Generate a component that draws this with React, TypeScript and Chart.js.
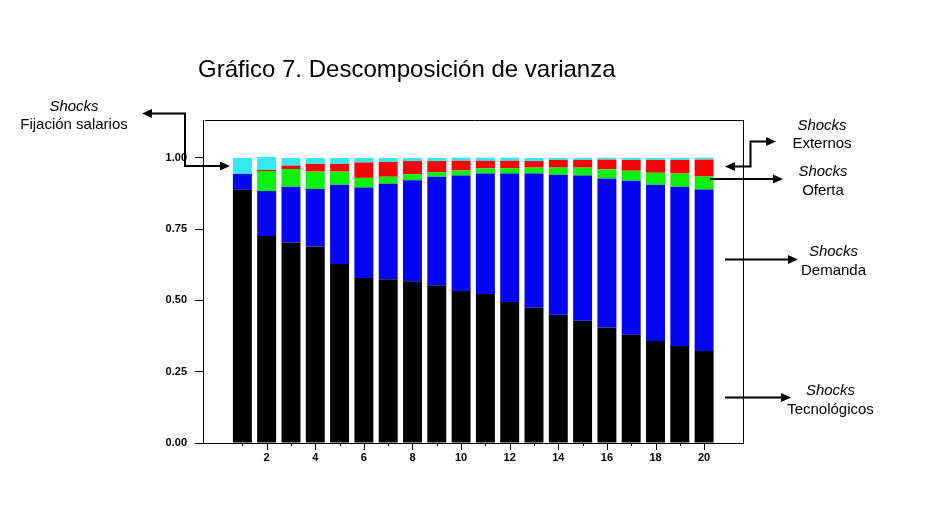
import React, { useEffect, useRef } from 'react';
import { Chart, registerables } from 'chart.js';

Chart.register(...registerables);

// ---- data ----
const categories = [1, 2, 3, 4, 5, 6, 7, 8, 9, 10, 11, 12, 13, 14, 15, 16, 17, 18, 19, 20];
const tecnologicos = [0.888, 0.726, 0.703, 0.689, 0.628, 0.579, 0.574, 0.567, 0.553, 0.533, 0.523, 0.495, 0.474, 0.450, 0.429, 0.405, 0.380, 0.358, 0.340, 0.323];
const demanda = [0.056, 0.158, 0.196, 0.202, 0.278, 0.317, 0.335, 0.355, 0.381, 0.405, 0.422, 0.450, 0.471, 0.491, 0.509, 0.523, 0.540, 0.548, 0.559, 0.566];
const oferta = [0.000, 0.070, 0.062, 0.061, 0.046, 0.034, 0.025, 0.021, 0.016, 0.018, 0.018, 0.019, 0.021, 0.025, 0.028, 0.032, 0.035, 0.042, 0.046, 0.046];
const externos = [0.000, 0.004, 0.012, 0.027, 0.027, 0.054, 0.052, 0.046, 0.039, 0.034, 0.027, 0.026, 0.023, 0.027, 0.027, 0.034, 0.038, 0.045, 0.048, 0.059];
const salarios = [0.056, 0.045, 0.027, 0.021, 0.021, 0.016, 0.014, 0.011, 0.011, 0.011, 0.011, 0.011, 0.011, 0.007, 0.007, 0.007, 0.007, 0.007, 0.007, 0.007];
const seriesNames = ['Tecnológicos', 'Demanda', 'Oferta', 'Externos', 'Fijación salarios'];
const seriesColors = ['#000000', '#0505F2', '#0AF00A', '#F50505', '#33E8F0'];
const xTickValues = [2, 4, 6, 8, 10, 12, 14, 16, 18, 20];
const yTickValues = [0, 0.25, 0.5, 0.75, 1.0];
const title = 'Gráfico 7. Descomposición de varianza';

const FONT = "'Liberation Sans', Arial, sans-serif";

const framePlugin = {
  id: 'frameTicks',
  afterDraw(chart: any) {
    const { ctx, chartArea: a, scales } = chart;
    ctx.save();
    ctx.strokeStyle = '#000';
    ctx.lineWidth = 1;
    ctx.beginPath();
    ctx.moveTo(a.left + 2, Math.round(a.top) + 0.5);
    ctx.lineTo(Math.round(a.right) + 0.5, Math.round(a.top) + 0.5);
    ctx.moveTo(Math.round(a.right) + 0.5, Math.round(a.top));
    ctx.lineTo(Math.round(a.right) + 0.5, Math.round(a.bottom) + 1);
    categories.forEach((v) => {
      const x = Math.round(scales.x.getPixelForValue(v)) + 0.5;
      const len = v % 2 === 0 ? 7 : 3;
      ctx.moveTo(x, Math.round(a.bottom));
      ctx.lineTo(x, Math.round(a.bottom) + len);
    });
    ctx.stroke();
    ctx.restore();
  },
};

function head(x: number, y: number, dir: number) {
  const l = 10, w = 4.5;
  return `${x},${y} ${x - dir * l},${y - w} ${x - dir * l},${y + w}`;
}

function Label({ cx, top, second }: { cx: number; top: number; second: string }) {
  return (
    <div
      style={{
        position: 'absolute',
        left: cx - 80,
        top,
        width: 160,
        textAlign: 'center',
        fontFamily: FONT,
        fontSize: 15,
        lineHeight: '18.5px',
        color: '#000',
        whiteSpace: 'nowrap',
      }}
    >
      <div style={{ fontStyle: 'italic' }}>Shocks</div>
      <div>{second}</div>
    </div>
  );
}

export default function App() {
  const ref = useRef<HTMLCanvasElement>(null);

  useEffect(() => {
    if (!ref.current) return;
    const seriesData = [tecnologicos, demanda, oferta, externos, salarios];
    const chart = new Chart(ref.current, {
      type: 'bar',
      data: {
        labels: categories,
        datasets: seriesData.map((d, i) => ({
          label: seriesNames[i],
          data: d,
          backgroundColor: seriesColors[i],
          borderWidth: 0,
          barPercentage: 0.78,
          categoryPercentage: 1,
        })),
      },
      options: {
        animation: false,
        responsive: false,
        maintainAspectRatio: false,
        layout: { padding: { left: 0, top: 120, right: 204, bottom: 0 } },
        plugins: { legend: { display: false }, tooltip: { enabled: false }, title: { display: false } },
        scales: {
          x: {
            type: 'linear',
            stacked: true,
            offset: false,
            min: -0.62,
            max: 21.6,
            grid: { display: false, drawTicks: false, offset: false },
            border: { display: true, color: '#000', width: 1 },
            afterBuildTicks: (s: any) => {
              s.ticks = xTickValues.map((v) => ({ value: v }));
            },
            afterFit: (s: any) => {
              s.height = 70;
            },
            ticks: {
              padding: 8,
              maxRotation: 0,
              autoSkip: false,
              color: '#000',
              font: { family: FONT, size: 11, weight: 'bold' },
              callback: (v: any) => String(v),
            },
          },
          y: {
            type: 'linear',
            stacked: true,
            min: 0,
            max: 1.133,
            grid: { display: true, drawOnChartArea: false, drawTicks: true, tickLength: 8, color: '#000' },
            border: { display: true, color: '#000', width: 1 },
            afterBuildTicks: (s: any) => {
              s.ticks = yTickValues.map((v) => ({ value: v }));
            },
            afterFit: (s: any) => {
              s.width = 203;
            },
            ticks: {
              padding: 8,
              color: '#000',
              font: { family: FONT, size: 11, weight: 'bold' },
              callback: (v: any) => Number(v).toFixed(2),
            },
          },
        },
      },
      plugins: [framePlugin],
    } as any);
    return () => chart.destroy();
  }, []);

  return (
    <div style={{ position: 'fixed', left: 0, top: 0, width: 947, height: 513, background: '#fff', overflow: 'hidden' }}>
      <canvas ref={ref} width={947} height={513} style={{ position: 'absolute', left: 0, top: 0, width: 947, height: 513 }} />
      <div
        style={{
          position: 'absolute',
          left: 198,
          top: 56.7,
          fontFamily: FONT,
          fontSize: 24,
          lineHeight: '24px',
          color: '#000',
          whiteSpace: 'nowrap',
        }}
      >
        {title}
      </div>
      <Label cx={74} top={96.5} second="Fijación salarios" />
      <Label cx={822} top={115.5} second="Externos" />
      <Label cx={823} top={162.2} second="Oferta" />
      <Label cx={833.5} top={242.2} second="Demanda" />
      <Label cx={830.5} top={381.2} second="Tecnológicos" />
      <svg width={947} height={513} style={{ position: 'absolute', left: 0, top: 0, pointerEvents: 'none' }}>
        <g stroke="#000" strokeWidth={2} fill="none">
          <polyline points="146,113.5 185,113.5 185,166 226,166" />
          <polyline points="729,166.5 750.5,166.5 750.5,141.5 772,141.5" />
          <line x1={710} y1={179} x2={779} y2={179} />
          <line x1={725} y1={259.5} x2={794} y2={259.5} />
          <line x1={725} y1={397.5} x2={787} y2={397.5} />
        </g>
        <g fill="#000">
          <polygon points={head(142, 113.5, -1)} />
          <polygon points={head(230, 166, 1)} />
          <polygon points={head(725, 166.5, -1)} />
          <polygon points={head(776, 141.5, 1)} />
          <polygon points={head(783, 179, 1)} />
          <polygon points={head(798, 259.5, 1)} />
          <polygon points={head(791, 397.5, 1)} />
        </g>
      </svg>
    </div>
  );
}
